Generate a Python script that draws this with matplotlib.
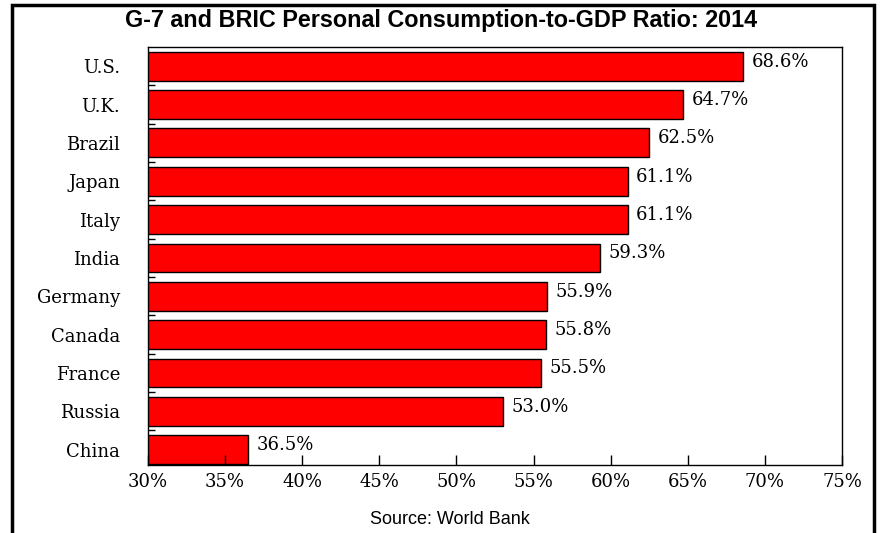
import matplotlib.pyplot as plt
from matplotlib.patches import Rectangle

# Data
countries = ['U.S.', 'U.K.', 'Brazil', 'Japan', 'Italy', 'India',
             'Germany', 'Canada', 'France', 'Russia', 'China']
ratios = [68.6, 64.7, 62.5, 61.1, 61.1, 59.3, 55.9, 55.8, 55.5, 53.0, 36.5]
xticks = [30, 35, 40, 45, 50, 55, 60, 65, 70, 75]

serif = 'DejaVu Serif'

fig = plt.figure(figsize=(8.84, 5.33), dpi=100)
ax = fig.add_axes([148 / 884, 1 - 465 / 533, (842 - 148) / 884, (465 - 47) / 533])

pos = list(range(len(countries)))
ax.barh(pos, ratios, height=0.75, left=0, color='#ff0000',
        edgecolor='black', linewidth=1)

for p, v in zip(pos, ratios):
    ax.text(v + 0.55, p - 0.12, f'{v:.1f}%', va='center', ha='left',
            family=serif, fontsize=13)

ax.set_xlim(30, 75)
ax.set_ylim(10.4, -0.5)
ax.set_xticks(xticks)
ax.set_xticklabels([f'{t}%' for t in xticks], family=serif, fontsize=13)
ax.set_yticks(pos)
ax.set_yticklabels(countries, family=serif, fontsize=13)
ax.set_yticks([p + 0.5 for p in pos[:-1]], minor=True)
ax.tick_params(axis='x', direction='in', length=7, width=1, pad=6)
ax.tick_params(axis='y', which='major', length=0, pad=20)
ax.tick_params(axis='y', which='minor', direction='in', length=5, width=1)
for s in ax.spines.values():
    s.set_linewidth(1)

fig.text(441 / 884, 1 - 20 / 533, 'G-7 and BRIC Personal Consumption-to-GDP Ratio: 2014',
         ha='center', va='center', family='Liberation Sans',
         fontweight='bold', fontsize=16.8)
fig.text(450 / 884, 1 - 519 / 533, 'Source: World Bank', ha='center', va='center',
         family='Liberation Sans', fontsize=13)

# outer frame
fig.patches.append(Rectangle((12 / 884, -0.05), (874 - 12) / 884, 1.05 - 5 / 533,
                             transform=fig.transFigure, fill=False,
                             edgecolor='black', linewidth=2.5))

fig.savefig('out.png', dpi=100)
